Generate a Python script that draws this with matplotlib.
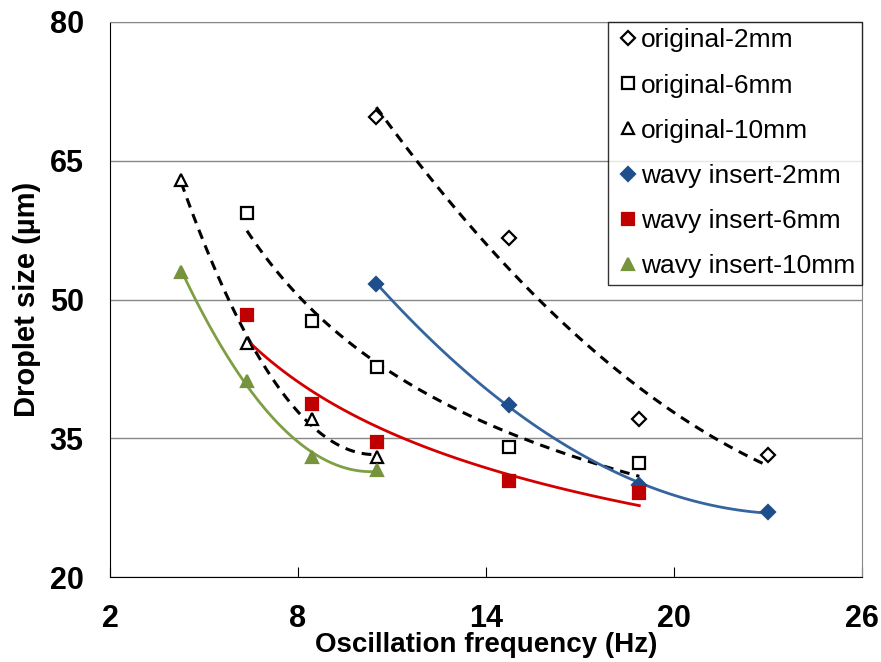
import numpy as np
import matplotlib.pyplot as plt

plt.rcParams['font.family'] = ['Liberation Sans', 'DejaVu Sans']

# data
freq_a = [10.5, 14.75, 18.9, 23.0]
freq_b = [6.37, 8.45, 10.52, 14.75, 18.9]
freq_c = [4.27, 6.37, 8.45, 10.52]

orig_2mm = [69.7, 56.6, 37.1, 33.2]
orig_6mm = [59.4, 47.7, 42.7, 34.1, 32.3]
orig_10mm = [62.9, 45.3, 37.1, 33.0]
wavy_2mm = [51.7, 38.6, 30.0, 27.0]
wavy_6mm = [48.3, 38.7, 34.6, 30.4, 29.1]
wavy_10mm = [53.0, 41.2, 33.0, 31.6]

series = [
    ('original-2mm', freq_a, orig_2mm, 'D', 'white', 'black', '--'),
    ('original-6mm', freq_b, orig_6mm, 's', 'white', 'black', '--'),
    ('original-10mm', freq_c, orig_10mm, '^', 'white', 'black', '--'),
    ('wavy insert-2mm', freq_a, wavy_2mm, 'D', '#1f4e8c', '#35649e', '-'),
    ('wavy insert-6mm', freq_b, wavy_6mm, 's', '#c00000', '#d40000', '-'),
    ('wavy insert-10mm', freq_c, wavy_10mm, '^', '#77933c', '#7f9f45', '-'),
]


def trend(x, y, xx):
    # 4-point sets look like 2nd order fits, 5-point sets like power fits
    if len(x) == 4:
        return np.polyval(np.polyfit(x, y, 2), xx)
    b, a = np.polyfit(np.log(x), np.log(y), 1)
    return np.exp(a) * xx ** b


fig = plt.figure(figsize=(8.81, 6.62), dpi=100)
ax = fig.add_axes([0.125, 0.128, 0.853, 0.839])

for name, x, y, m, fc, lc, ls in series:
    xx = np.linspace(min(x), max(x), 100)
    ec = 'black' if fc == 'white' else fc
    if ls == '--':
        ax.plot(xx, trend(x, y, xx), '--', color=lc, lw=2.2, dashes=(3.2, 2.3), zorder=2)
    else:
        ax.plot(xx, trend(x, y, xx), '-', color=lc, lw=2, zorder=2)
    ms = 7.5 if m == 'D' else 8.5
    ax.plot(x, y, linestyle='none', marker=m, markersize=ms, markerfacecolor=fc,
            markeredgecolor=ec, markeredgewidth=1.6, label=name, zorder=3)

ax.set_xlim(2, 26)
ax.set_ylim(20, 80)
ax.set_xticks([2, 8, 14, 20, 26])
ax.set_yticks([20, 35, 50, 65, 80])
ax.yaxis.grid(True, color='#888888', lw=1)
ax.set_axisbelow(True)
ax.tick_params(axis='x', direction='in', length=7, labelsize=22, pad=19)
ax.tick_params(axis='y', length=0, labelsize=22, pad=19)
for lab in ax.get_xticklabels() + ax.get_yticklabels():
    lab.set_fontweight('bold')
for s in ['top', 'right']:
    ax.spines[s].set_color('#888888')

ax.set_xlabel('Oscillation frequency (Hz)', fontsize=20, fontweight='bold', labelpad=-1)
ax.set_ylabel('Droplet size (µm)', fontsize=21, fontweight='bold', labelpad=6)

leg = ax.legend(loc='upper right', fontsize=19, frameon=True, fancybox=False,
                borderaxespad=0, handletextpad=0.0, handlelength=1.0,
                labelspacing=0.8, borderpad=0.25, handleheight=0.7)
leg.get_frame().set_edgecolor('black')
leg.get_frame().set_linewidth(1)

fig.savefig('out.png', dpi=100)
